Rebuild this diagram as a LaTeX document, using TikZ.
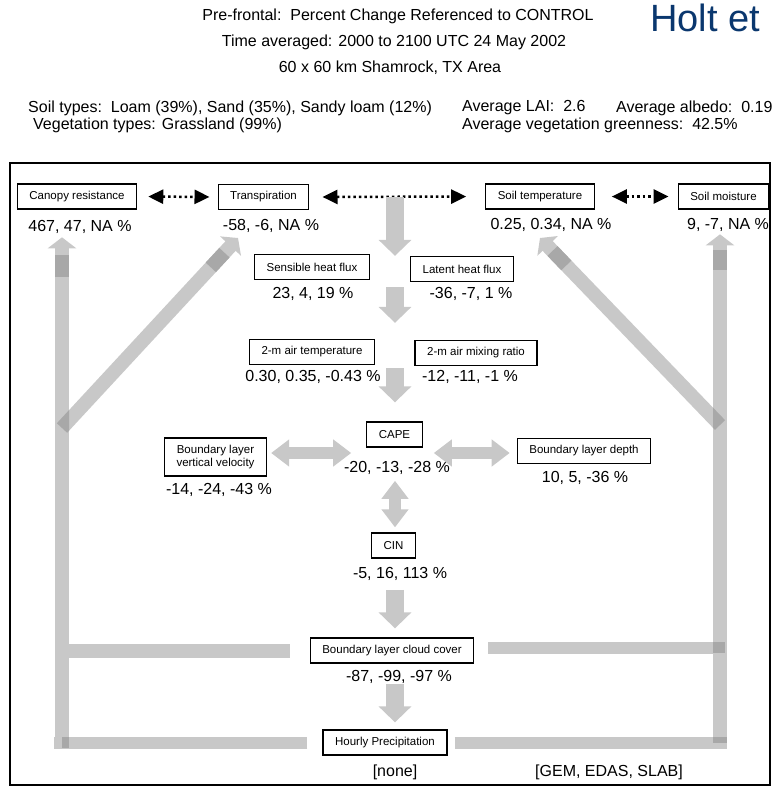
\documentclass[tikz,border=0pt]{standalone}
\usepackage{fontspec}
\setmainfont{Liberation Sans}
\usetikzlibrary{arrows.meta,calc}

\begin{document}
\begin{tikzpicture}[x=1pt,y=-1pt]
    % Define colors
    \definecolor{barlight}{RGB}{200,200,200}
    \definecolor{bardark}{RGB}{168,168,168}
    \definecolor{holtblue}{RGB}{10,55,110}

    % Define styles
    \tikzstyle{hdr} = [font=\fontsize{16}{18}\selectfont, inner sep=0pt]
    \tikzstyle{varbox} = [draw, line width=1.3pt, fill=white, minimum height=25pt, inner xsep=12pt, inner ysep=3pt, align=center, font=\fontsize{11.5}{13}\selectfont]
    \tikzstyle{val} = [font=\fontsize{16}{18}\selectfont, inner sep=0pt]
    \tikzstyle{gbar} = [draw=barlight, line width=14pt]
    \tikzstyle{gdark} = [draw=bardark, line width=14pt]
    \tikzstyle{gbarhead} = [gbar, -{Triangle[width=28pt,length=11pt]}]
    \tikzstyle{downarrow} = [draw=barlight, line width=18pt, -{Triangle[width=32pt,length=16pt]}]
    \tikzstyle{twoway} = [draw=barlight, line width=12pt, {Triangle[width=26pt,length=18pt]}-{Triangle[width=26pt,length=18pt]}]
    \tikzstyle{dotarrow} = [line width=2.5pt, dash pattern=on 2.5pt off 3pt, {Triangle[width=14pt,length=15pt]}-{Triangle[width=14pt,length=15pt]}]

    \useasboundingbox (0,0) rectangle (774,787);

    % Header
    \node[hdr, text=holtblue, font=\fontsize{38}{42}\selectfont, anchor=base west] (holt) at (650,31) {Holt et};
    \node[hdr] (title) at (398,16) {Pre-frontal:\ \ Percent Change Referenced to CONTROL};
    \node[hdr] (period) at (394,42) {Time averaged: 2000 to 2100 UTC 24 May 2002};
    \node[hdr] (area) at (390,68) {60 x 60 km Shamrock, TX Area};
    \node[hdr, anchor=west] (soil) at (28,108) {Soil types:\ \ Loam (39\%), Sand (35\%), Sandy loam (12\%)};
    \node[hdr, anchor=west] (veg) at (33,125) {Vegetation types: Grassland (99\%)};
    \node[hdr, anchor=west] (lai) at (462,108) {Average LAI:\ \ 2.6};
    \node[hdr, anchor=west] (albedo) at (616,108) {Average albedo:\ \ 0.19};
    \node[hdr, anchor=west] (green) at (462,125) {Average vegetation greenness:\ \ 42.5\%};

    % Frame
    \draw[line width=2pt] (10,163) rectangle (770,785);

    % Top row
    \node[varbox] (cr) at (77,196.5) {Canopy resistance};
    \node[val] (crv) at (80,227) {467, 47, NA \%};
    \node[varbox] (tr) at (263.5,197) {Transpiration};
    \node[val] (trv) at (271,226) {-58, -6, NA \%};
    \node[varbox] (st) at (540,196.5) {Soil temperature};
    \node[val] (stv) at (551,225) {0.25, 0.34, NA \%};
    \node[varbox] (sm) at (723.5,196.5) {Soil moisture};
    \node[val] (smv) at (728,225) {9, -7, NA \%};

    % Fluxes and near-surface air
    \node[varbox] (shf) at (312,267) {Sensible heat flux};
    \node[val] (shfv) at (313,294) {23, 4, 19 \%};
    \node[varbox] (lhf) at (462,269) {Latent heat flux};
    \node[val] (lhfv) at (471,294) {-36, -7, 1 \%};
    \node[varbox] (tmp) at (312,352) {2-m air temperature};
    \node[val] (tmpv) at (313,377) {0.30, 0.35, -0.43 \%};
    \node[varbox] (mix) at (476,353) {2-m air mixing ratio};
    \node[val] (mixv) at (470,377) {-12, -11, -1 \%};

    % Boundary layer
    \node[varbox] (cape) at (394.5,434.5) {CAPE};
    \node[val] (capev) at (397,468) {-20, -13, -28 \%};
    \node[varbox, minimum height=38pt] (blvv) at (215.5,457) {Boundary layer\\vertical velocity};
    \node[val] (blvvv) at (219,490) {-14, -24, -43 \%};
    \node[varbox] (bld) at (584,451) {Boundary layer depth};
    \node[val] (bldv) at (585,478) {10, 5, -36 \%};
    \node[varbox] (cin) at (393.5,545.5) {CIN};
    \node[val] (cinv) at (400,574) {-5, 16, 113 \%};
    \node[varbox] (blcc) at (392,650.5) {Boundary layer cloud cover};
    \node[val] (blccv) at (399,677) {-87, -99, -97 \%};
    \node[varbox] (hp) at (385,742.5) {Hourly Precipitation};
    \node[val] (hpv) at (395,772) {[none]};
    \node[val] (schemes) at (609,772) {[GEM, EDAS, SLAB]};

    % Dotted arrows
    \draw[dotarrow, shorten <=11pt, shorten >=8pt] (cr.east) -- (tr.west);
    \draw[dotarrow, shorten <=13pt, shorten >=19pt] (tr.east) -- (st.west);
    \draw[dotarrow, shorten <=17pt, shorten >=9pt] (st.east) -- (sm.west);

    % Central arrows
    \coordinate (spine) at (395,0);
    \draw[downarrow] (spine |- tr.east) -- (spine |- lhf.north);
    \draw[downarrow, shorten <=5pt, shorten >=16pt] (spine |- lhf.south) -- (spine |- tmp.north);
    \draw[downarrow, shorten <=2pt, shorten >=19pt] (spine |- mix.south) -- (spine |- cape.north);
    \draw[twoway, shorten <=6pt, shorten >=5pt] (spine |- capev.south) -- (spine |- cin.north);
    \draw[downarrow, shorten <=9pt, shorten >=9pt] (spine |- cinv.south) -- (spine |- blcc.north);
    \draw[downarrow, shorten >=7pt] (spine |- blccv.south) -- (spine |- hp.north);
    \draw[twoway] ($(blvv.east)+(4,-4)$) -- ($(cape.west |- blvv.east)+(-15,-4)$);
    \draw[twoway] ($(cape.east |- blvv.east)+(11,-4)$) -- ($(bld.west |- blvv.east)+(-7,-4)$);

    % Feedback bars
    \coordinate (lcol) at (62,748);
    \coordinate (rcol) at (720,743);
    \coordinate (ldiag) at (62,428);
    \coordinate (ltip) at (238,238);
    \coordinate (rdiag) at (720,425);
    \coordinate (rtip) at (540,238);

    % Left side
    \draw[gbar, line width=12pt] ([xshift=-15pt]hp.west) -- ($(hp.west -| lcol)+(-8,0)$);
    \draw[gbarhead] (lcol) -- ($(crv.south -| lcol)+(0,3.5)$);
    \draw[gbar] ([xshift=-20pt]blcc.west) -- ($(blcc.west -| lcol)+(5,0)$);
    \draw[gbarhead] (ldiag) -- (ltip);

    % Right side
    \draw[gbar, line width=12pt] ([xshift=7pt]hp.east) -- ($(hp.east -| rcol)+(7,0)$);
    \draw[gbarhead] (rcol) -- ($(smv.south -| rcol)+(0,2.5)$);
    \draw[gbar, line width=12pt] ([xshift=14pt,yshift=3pt]blcc.east) -- ($(blcc.east -| rcol)+(5,-3)$);
    \draw[gbarhead] (rdiag) -- (rtip);

    % Darker overlaps
    \draw[gdark] (62,255) -- (62,277);
    \draw[gdark] (720,250) -- (720,270);
    \draw[gdark] ($(ltip)!20pt!(ldiag)$) -- ($(ltip)!40pt!(ldiag)$);
    \draw[gdark] ($(rtip)!18pt!(rdiag)$) -- ($(rtip)!38pt!(rdiag)$);
    \fill[bardark] (62,737) rectangle (69,748);
    \fill[bardark] (713,737) rectangle (727,743);
    \fill[bardark] (713,642) rectangle (725,653);
    \begin{scope}
        \clip (55,380) rectangle (69,450);
        \draw[gdark] (ldiag) -- (ltip);
    \end{scope}
    \begin{scope}
        \clip (713,380) rectangle (727,450);
        \draw[gdark] (rdiag) -- (rtip);
    \end{scope}
\end{tikzpicture}
\end{document}
